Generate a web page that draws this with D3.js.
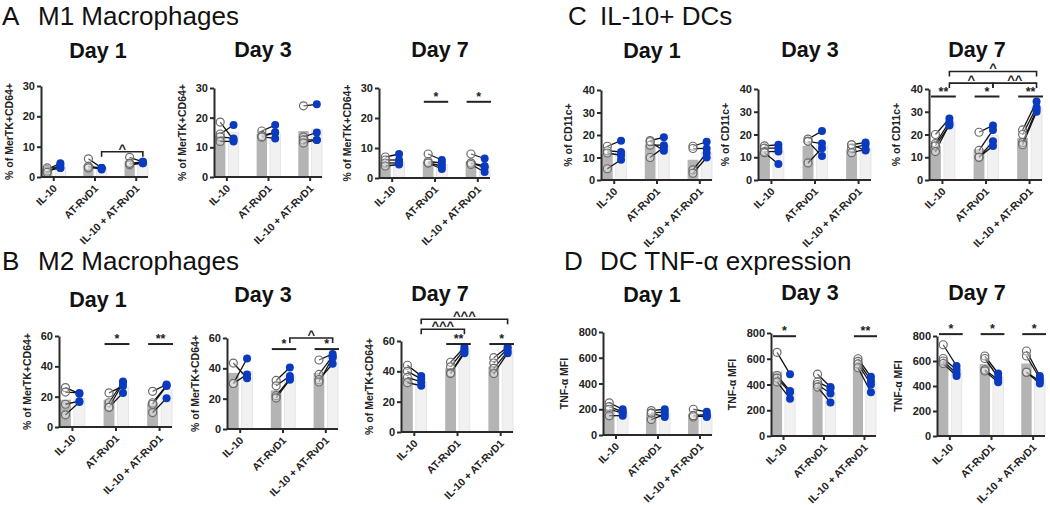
<!DOCTYPE html>
<html><head><meta charset="utf-8">
<script src="https://cdn.jsdelivr.net/npm/d3@7"></script>
<style>
body{margin:0;background:#fff;}
text{font-family:Arial,"Liberation Sans",sans-serif;}
</style>
</head><body>
<svg id="fig" width="1050" height="505"></svg>
<script>
// ---------- data ----------
const groups = ["IL-10", "AT-RvD1", "IL-10 + AT-RvD1"];

const ticksM1 = [0, 10, 20, 30];
const ticksM2 = [0, 20, 40, 60];
const ticksDC = [0, 10, 20, 30, 40];
const ticksTNF = [0, 200, 400, 600, 800];

// Panel A: M1 macrophages
const m1d1Pre  = [[2.5,2,3,1.5],[6,3.5,3.5,3],[6.5,4.5,4,4.5]];
const m1d1Post = [[4.5,3,3,4],[3,2.5,3,3],[5,4.5,4.5,5]];
const m1d1BarPre = [2.5,4,5], m1d1BarPost = [3.5,3,4.7];
const m1d1Sig = [{kind:"between", a:1, b:2, y:8.3, label:"^"}];

const m1d3Pre  = [[18.5,14.5,13.5,12],[15.5,14,13.5,13.5],[24,13.5,12.5,11.5]];
const m1d3Post = [[12.5,17.5,13,12],[17.5,15,13,15],[24.5,15,12.5,12.5]];
const m1d3BarPre = [14,14.5,15.5], m1d3BarPost = [15,14.5,16];
const m1d3Sig = [];

const m1d7Pre  = [[7,6,5,4],[8,5.5,5,5],[8,5,5,4.5]];
const m1d7Post = [[8,6,5,4.5],[6,5,4,3],[6.5,4,3.5,2]];
const m1d7BarPre = [5.5,5.5,5.5], m1d7BarPost = [5.5,4.5,4];
const m1d7Sig = [{kind:"within", a:1, y:25.4, label:"*"},{kind:"within", a:2, y:25.4, label:"*"}];

// Panel B: M2 macrophages
const m2d1Pre  = [[26,23,15,8],[22.5,16,13,13],[23.5,16,15,9.5]];
const m2d1Post = [[22,22.5,17,16.5],[27,30,22.5,29],[28,27.5,27,19]];
const m2d1BarPre = [18,18,16], m2d1BarPost = [19,26,25];
const m2d1Sig = [{kind:"within", a:1, y:54.7, label:"*"},{kind:"within", a:2, y:54.7, label:"**"}];

const m2d3Pre  = [[43.5,30,30],[32,28.5,22,20.5],[45.5,36,32.5,31]];
const m2d3Post = [[33.5,46.5,36],[40.5,35,33,32.5],[49.5,48,43,47]];
const m2d3BarPre = [37,25.5,37], m2d3BarPost = [38,35,47];
const m2d3Sig = [{kind:"within", a:1, y:52.7, label:"*"},{kind:"within", a:2, y:52.7, label:"*"},
                 {kind:"between", a:1, b:2, y:60, label:"^"}];

const m2d7Pre  = [[44,40,36,32.5],[46,43,39,38.5],[49,45.5,42,38.5]];
const m2d7Post = [[37,35,33,30.5],[56,54.5,53,52],[56,55,53,52]];
const m2d7BarPre = [36,42,43], m2d7BarPost = [33,54,54];
const m2d7Sig = [{kind:"within", a:1, y:58, label:"**"},{kind:"within", a:2, y:58, label:"*"},
                 {kind:"between", a:0, b:1, y:67.7, label:"^^^"},{kind:"between", a:0, b:2, y:74.3, label:"^^^"}];

// Panel C: IL-10+ DCs
const dcd1Pre  = [[15,13,12,5],[17.5,15.5,10,17],[15,14,4.5,3]];
const dcd1Post = [[17.5,12.5,11,9],[19,15.5,14.5,13],[17,14,12,10]];
const dcd1BarPre = [11.5,15.5,9], dcd1BarPost = [12.5,15.5,12];
const dcd1Sig = [];

const dcd3Pre  = [[15,14,12.5,12],[18,17,7.5,17],[15.5,14,12,15.5]];
const dcd3Post = [[15.5,14,12.5,7],[21.5,16,14,10.5],[16.5,15.5,13.5,13]];
const dcd3BarPre = [12.5,15,13.5], dcd3BarPost = [13,15,14];
const dcd3Sig = [];

const dcd7Pre  = [[20,16,15,12.5],[21,13,10,10],[22,20,16.5,15.5]];
const dcd7Post = [[27,25.5,24,24.5],[24,22,17,15],[34.5,32,31,30]];
const dcd7BarPre = [15,13.5,18.5], dcd7BarPost = [25.5,19.5,32];
const dcd7Sig = [{kind:"within", a:0, y:36.7, label:"**"},{kind:"within", a:1, y:36.7, label:"*"},
                 {kind:"within", a:2, y:36.7, label:"**"},
                 {kind:"between", a:0, b:1, y:42.6, label:"^"},{kind:"between", a:1, b:2, y:42.6, label:"^^"},
                 {kind:"between", a:0, b:2, y:47.7, label:"^"}];

// Panel D: DC TNF-alpha
const tnfd1Pre  = [[250,220,200,150],[190,170,120,170],[200,150,140,150]];
const tnfd1Post = [[200,180,170,150],[200,180,160,140],[180,160,150,140]];
const tnfd1BarPre = [200,160,165], tnfd1BarPost = [175,170,155];
const tnfd1Sig = [];

const tnfd3Pre  = [[650,470,450,420],[480,420,400,380],[600,580,560,530]];
const tnfd3Post = [[480,350,340,290],[380,370,330,260],[460,430,400,340]];
const tnfd3BarPre = [500,420,575], tnfd3BarPost = [370,340,420];
const tnfd3Sig = [{kind:"within", a:0, y:775, label:"*"},{kind:"within", a:2, y:775, label:"**"}];

const tnfd7Pre  = [[730,620,600,580],[640,620,530,520],[680,640,510,510]];
const tnfd7Post = [[560,530,500,480],[500,470,450,430],[480,460,420,440]];
const tnfd7BarPre = [610,575,580], tnfd7BarPost = [520,470,450];
const tnfd7Sig = [{kind:"within", a:0, y:815, label:"*"},{kind:"within", a:1, y:815, label:"*"},
                  {kind:"within", a:2, y:815, label:"*"}];

const sectionTitles = [
  {letter:"A", text:"M1 Macrophages", lx:2, tx:38, y:25},
  {letter:"B", text:"M2 Macrophages", lx:2, tx:38, y:270},
  {letter:"C", text:"IL-10+ DCs", lx:568, tx:600, y:25},
  {letter:"D", text:"DC TNF-\u03b1 expression", lx:564, tx:600, y:270}
];

// ---------- layout (positions only) ----------
const panels = [
  {day:"Day 1", pre:m1d1Pre, post:m1d1Post, barPre:m1d1BarPre, barPost:m1d1BarPost, sig:m1d1Sig, ticks:ticksM1, ylab:"% of MerTK+CD64+", x0:41, x1:148, yT:86, yB:177, tx:98, ty:58, lo:28},
  {day:"Day 3", pre:m1d3Pre, post:m1d3Post, barPre:m1d3BarPre, barPost:m1d3BarPost, sig:m1d3Sig, ticks:ticksM1, ylab:"% of MerTK+CD64+", x0:214, x1:322, yT:88, yB:177, tx:263, ty:57, lo:28},
  {day:"Day 7", pre:m1d7Pre, post:m1d7Post, barPre:m1d7BarPre, barPost:m1d7BarPost, sig:m1d7Sig, ticks:ticksM1, ylab:"% of MerTK+CD64+", x0:379, x1:490, yT:88, yB:178, tx:440, ty:57, lo:28},
  {day:"Day 1", pre:m2d1Pre, post:m2d1Post, barPre:m2d1BarPre, barPost:m2d1BarPost, sig:m2d1Sig, ticks:ticksM2, ylab:"% of MerTK+CD64+", x0:59, x1:172, yT:336, yB:427, tx:98, ty:307, lo:28},
  {day:"Day 3", pre:m2d3Pre, post:m2d3Post, barPre:m2d3BarPre, barPost:m2d3BarPost, sig:m2d3Sig, ticks:ticksM2, ylab:"% of MerTK+CD64+", x0:227, x1:338, yT:338, yB:429, tx:263, ty:302, lo:28},
  {day:"Day 7", pre:m2d7Pre, post:m2d7Post, barPre:m2d7BarPre, barPost:m2d7BarPost, sig:m2d7Sig, ticks:ticksM2, ylab:"% of MerTK+CD64+", x0:401, x1:513, yT:341, yB:432, tx:440, ty:301, lo:28},
  {day:"Day 1", pre:dcd1Pre, post:dcd1Post, barPre:dcd1BarPre, barPost:dcd1BarPost, sig:dcd1Sig, ticks:ticksDC, ylab:"% of CD11c+", x0:601, x1:712, yT:90, yB:180, tx:652, ty:58, lo:29},
  {day:"Day 3", pre:dcd3Pre, post:dcd3Post, barPre:dcd3BarPre, barPost:dcd3BarPost, sig:dcd3Sig, ticks:ticksDC, ylab:"% of CD11c+", x0:758, x1:871, yT:89, yB:180, tx:810, ty:57, lo:29},
  {day:"Day 7", pre:dcd7Pre, post:dcd7Post, barPre:dcd7BarPre, barPost:dcd7BarPost, sig:dcd7Sig, ticks:ticksDC, ylab:"% of CD11c+", x0:929, x1:1042, yT:89, yB:180, tx:977, ty:57, lo:29},
  {day:"Day 1", pre:tnfd1Pre, post:tnfd1Post, barPre:tnfd1BarPre, barPost:tnfd1BarPost, sig:tnfd1Sig, ticks:ticksTNF, ylab:"TNF-\u03b1 MFI", x0:603, x1:712, yT:332, yB:435, tx:652, ty:302, lo:35},
  {day:"Day 3", pre:tnfd3Pre, post:tnfd3Post, barPre:tnfd3BarPre, barPost:tnfd3BarPost, sig:tnfd3Sig, ticks:ticksTNF, ylab:"TNF-\u03b1 MFI", x0:771, x1:876, yT:333, yB:436, tx:810, ty:300, lo:35},
  {day:"Day 7", pre:tnfd7Pre, post:tnfd7Post, barPre:tnfd7BarPre, barPost:tnfd7BarPost, sig:tnfd7Sig, ticks:ticksTNF, ylab:"TNF-\u03b1 MFI", x0:937, x1:1045, yT:336, yB:436, tx:977, ty:300, lo:35}
];

const svg = d3.select("#fig");

sectionTitles.forEach(s => {
  svg.append("text").attr("x", s.lx).attr("y", s.y).attr("font-size", 26).attr("fill", "#111").text(s.letter);
  svg.append("text").attr("x", s.tx).attr("y", s.y).attr("font-size", 26).attr("fill", "#111").text(s.text);
});

const GRAY = "#b4b4b4", LIGHT = "#f1f1f1", BLUE = "#0a3bbf", AX = "#2a2a2a";

panels.forEach(p => {
  const ymax = p.ticks[p.ticks.length - 1];
  const y = d3.scaleLinear().domain([0, ymax]).range([p.yB, p.yT]);
  const x = d3.scaleBand().domain(groups).range([p.x0 + 1, p.x1]).paddingInner(0.43).paddingOuter(0);
  const sub = d3.scaleBand().domain(["pre", "post"]).range([0, x.bandwidth()]).paddingInner(0.22).paddingOuter(0);
  const g = svg.append("g");
  const cx = (grp, k) => x(grp) + sub(k) + sub.bandwidth() / 2;

  // day title
  g.append("text").attr("x", p.tx).attr("y", p.ty).attr("text-anchor", "middle")
    .attr("font-size", 21.5).attr("font-weight", "bold").attr("fill", "#111").text(p.day);

  // bars
  groups.forEach((grp, i) => {
    g.append("rect").attr("x", x(grp) + sub("pre")).attr("width", sub.bandwidth())
      .attr("y", y(p.barPre[i])).attr("height", y(0) - y(p.barPre[i])).attr("fill", GRAY);
    g.append("rect").attr("x", x(grp) + sub("post")).attr("width", sub.bandwidth())
      .attr("y", y(p.barPost[i])).attr("height", y(0) - y(p.barPost[i]))
      .attr("fill", LIGHT).attr("stroke", "#e2e2e2").attr("stroke-width", 0.8);
  });

  // pair lines
  groups.forEach((grp, i) => {
    p.pre[i].forEach((v, k) => {
      g.append("line").attr("x1", cx(grp, "pre")).attr("x2", cx(grp, "post"))
        .attr("y1", y(v)).attr("y2", y(p.post[i][k]))
        .attr("stroke", "#111").attr("stroke-width", 1.3);
    });
  });
  // points
  groups.forEach((grp, i) => {
    p.pre[i].forEach(v => {
      g.append("circle").attr("cx", cx(grp, "pre")).attr("cy", y(v)).attr("r", 4)
        .attr("fill", "#fff").attr("fill-opacity", 0.35).attr("stroke", "#6a6a6a").attr("stroke-width", 1.2);
    });
    p.post[i].forEach(v => {
      g.append("circle").attr("cx", cx(grp, "post")).attr("cy", y(v)).attr("r", 4).attr("fill", BLUE);
    });
  });

  // y axis
  const ya = g.append("g").attr("transform", `translate(${p.x0},0)`)
    .call(d3.axisLeft(y).tickValues(p.ticks).tickSize(4).tickSizeOuter(0));
  ya.select(".domain").attr("stroke", AX).attr("stroke-width", 2);
  ya.selectAll(".tick line").attr("stroke", AX).attr("stroke-width", 2);
  ya.selectAll(".tick text").attr("font-size", 11).attr("font-weight", "bold").attr("fill", "#222")
    .attr("font-family", "Arial, Liberation Sans, sans-serif").attr("dx", 1);

  // x axis
  const xa = g.append("g").attr("transform", `translate(0,${p.yB})`)
    .call(d3.axisBottom(x).tickSize(4).tickSizeOuter(0));
  xa.select(".domain").attr("stroke", AX).attr("stroke-width", 2).attr("d", `M${p.x0},0H${p.x1}`);
  xa.selectAll(".tick line").attr("stroke", AX).attr("stroke-width", 2);
  xa.selectAll(".tick text").attr("font-size", 10.5).attr("font-weight", "bold").attr("fill", "#222")
    .attr("font-family", "Arial, Liberation Sans, sans-serif")
    .attr("text-anchor", "end").attr("dy", 0).attr("y", 0)
    .attr("transform", "translate(4,12) rotate(-45)");

  // y label
  g.append("text").attr("transform", `translate(${p.x0 - p.lo},${(p.yT + p.yB) / 2}) rotate(-90)`)
    .attr("text-anchor", "middle").attr("font-size", 10.5).attr("font-weight", "bold").attr("fill", "#222")
    .text(p.ylab);

  // significance
  p.sig.forEach(s => {
    if (s.kind === "within") {
      const xl = x(groups[s.a]) + 1, xr = x(groups[s.a]) + x.bandwidth() + 1;
      g.append("line").attr("x1", xl).attr("x2", xr).attr("y1", y(s.y)).attr("y2", y(s.y))
        .attr("stroke", "#222").attr("stroke-width", 2);
      g.append("text").attr("x", (xl + xr) / 2).attr("y", y(s.y) - 1).attr("text-anchor", "middle")
        .attr("font-size", 12.5).attr("font-weight", "bold").attr("fill", "#222").text(s.label);
    } else {
      const xl = cx(groups[s.a], "post"), xr = cx(groups[s.b], "post");
      const yy = y(s.y);
      g.append("path").attr("d", `M${xl},${yy + 5}V${yy}H${xr}V${yy + 5}`)
        .attr("fill", "none").attr("stroke", "#222").attr("stroke-width", 1.6);
      g.append("text").attr("x", (xl + xr) / 2).attr("y", yy + 1).attr("text-anchor", "middle")
        .attr("font-size", 13).attr("font-weight", "bold").attr("fill", "#222").text(s.label);
    }
  });
});
</script>
</body></html>
